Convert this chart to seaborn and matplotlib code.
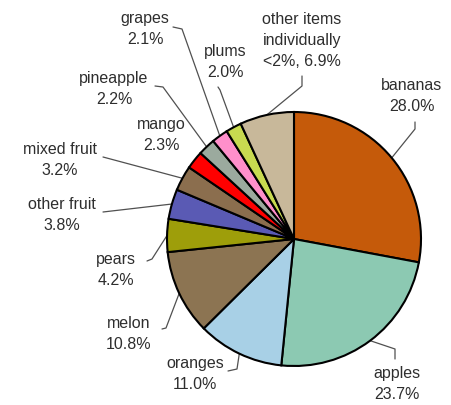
import numpy as np
import matplotlib
matplotlib.use("Agg")
import matplotlib.pyplot as plt
import seaborn as sns

# Fruit share of purchases, clockwise from 12 o'clock
fruits = ["bananas", "apples", "oranges", "melon", "pears", "other fruit",
          "mixed fruit", "mango", "pineapple", "grapes", "plums",
          "other items\nindividually\n<2%,"]
shares = [28.0, 23.7, 11.0, 10.8, 4.2, 3.8, 3.2, 2.3, 2.2, 2.1, 2.0, 6.9]
colors = ["#C55A0A", "#8CC9B2", "#A8D0E6", "#8C7452", "#9E9E0A", "#5A5AB4",
          "#8B6E4E", "#FF0000", "#9BAA9E", "#FF8FCB", "#C8DA50", "#C8B89A"]

# label placement (pixel positions, y measured from the top) and leader elbows
label_pos = {
    "bananas": (412, 96), "apples": (397, 384), "oranges": (195, 374),
    "melon": (129, 334), "pears": (116, 270), "other fruit": (62, 215),
    "mixed fruit": (60, 160), "mango": (161, 135), "pineapple": (114, 89),
    "grapes": (145, 29), "plums": (225, 62),
    "other items\nindividually\n<2%,": (302, 40),
}
leader_pts = {
    "bananas": [(415, 123), (415, 130)],
    "apples": [(395, 360), (395, 350)],
    "oranges": [(228, 372), (237, 370)],
    "melon": [(162, 330), (166, 329)],
    "pears": [(147, 262), (152, 260)],
    "other fruit": [(103, 213)],
    "mixed fruit": [(103, 158)],
    "mango": [],
    "pineapple": [(155, 87), (163, 88)],
    "grapes": [(173, 28), (182, 30)],
    "plums": [(218, 88), (220, 91)],
    "other items\nindividually\n<2%,": [(302, 77), (302, 87)],
}

W, H = 451, 406
CX, CY, R = 294, H - 240, 127

sns.set_theme(style="white")
plt.rcParams["font.family"] = ["Liberation Sans", "DejaVu Sans"]

fig = plt.figure(figsize=(W / 100, H / 100), dpi=100)
ax = fig.add_axes([0, 0, 1, 1])

wedges, _ = ax.pie(shares, colors=colors, startangle=90, counterclock=False,
                   center=(CX, CY), radius=R,
                   wedgeprops=dict(edgecolor="black", linewidth=1.5))
ax.set_aspect("auto")
ax.set_xlim(0, W)
ax.set_ylim(0, H)
ax.axis("off")

text_color = "#2e2e2e"
for name, val, w in zip(fruits, shares, wedges):
    sep = " " if name.endswith(",") else "\n"
    label = f"{name}{sep}{val:.1f}%"
    tx, ty = label_pos[name]
    ax.text(tx, H - ty, label, ha="center", va="center", ma="center",
            fontsize=11.5, color=text_color, linespacing=1.5)
    pts = leader_pts[name]
    if pts:
        mid = np.deg2rad((w.theta1 + w.theta2) / 2)
        ex, ey = CX + R * np.cos(mid), CY + R * np.sin(mid)
        xs = [p[0] for p in pts] + [ex]
        ys = [H - p[1] for p in pts] + [ey]
        ax.plot(xs, ys, color="#505050", lw=0.9, zorder=0.5)

fig.savefig("out.png", dpi=100)
